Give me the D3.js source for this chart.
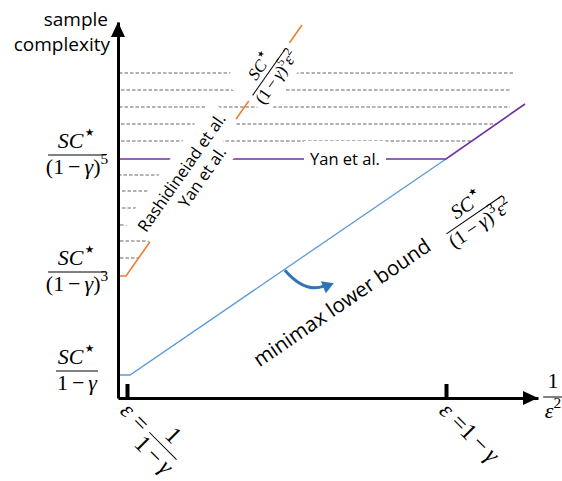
<!DOCTYPE html>
<html>
<head>
<meta charset="utf-8">
<script src="https://cdn.jsdelivr.net/npm/d3@7"></script>
<style>
  body { margin: 0; background: #fff; }
  svg { display: block; }
  .sans { font-family: "Open Sans", sans-serif; fill: #000; }
  .math { font-family: "Liberation Serif", serif; fill: #000; }
</style>
</head>
<body>
<div id="chart"></div>
<script>
// schematic units: x = 1/eps^2, y = sample complexity
const xTicks = [0.9, 32.8];
const yLevels = [2.3, 12.2, 23.9]; // SC*/(1-γ), SC*/(1-γ)^3, SC*/(1-γ)^5
const yLevelPowers = ['', '3', '5'];

const minimaxX = [0, 1.2, 32.8];
const minimaxY = [2.3, 2.3, 23.9];
const yanX = [0, 32.8, 40.7];
const yanY = [23.9, 23.9, 29.4];
const rashX = [0, 0.8, 18.4];
const rashY = [12.2, 12.2, 37.3];

const dashY = [32.5, 30.8, 29.1, 27.4, 25.7, 22.3, 20.7, 19.0, 17.3, 15.7, 14.0];
const dashStart = [0.1, 0.3, 0.1, 0.3, 0.3, 0.0, 0.4, 0.4, 0.2, 0.2, 0.2];
const dashEnd = [39.5, 39.2, 39.2, 37.9, 35.3, 7.9, 6.8, 5.6, 4.4, 3.3, 2.1];

const width = 562, height = 481;
const colors = { minimax: '#5b9bd5', yan: '#7030a0', rash: '#ed7d31', arrow: '#2e75b6', dash: '#666' };

const svg = d3.select('#chart').append('svg')
  .attr('width', width)
  .attr('height', height);

const x = d3.scaleLinear().domain([0, 42]).range([118, 538]);
const y = d3.scaleLinear().domain([0, 37.6]).range([398, 22]);
const MATH = 22;

// inline math: parts = [{t, i: italic, sup: superscript, dx: em gap before, s: size factor}]
function mathText(g, px, py, parts, size, anchor) {
  const t = g.append('text').attr('class', 'math')
    .attr('x', px).attr('y', py)
    .attr('font-size', size)
    .attr('text-anchor', anchor || 'middle');
  let shifted = 0;
  parts.forEach(p => {
    const s = t.append('tspan').text(p.t);
    let dy = 0;
    if (p.sup && !shifted) { dy = -size * 0.42; shifted = 1; }
    if (!p.sup && shifted) { dy = size * 0.42; shifted = 0; }
    if (dy) s.attr('dy', dy);
    if (p.dx) s.attr('dx', p.dx * size);
    if (p.i) s.attr('font-style', 'italic');
    if (p.sup) s.attr('font-size', size * (p.s || 0.7));
  });
  return t;
}

function fraction(g, cx, cy, num, den, size, spread) {
  const k = spread || 0;
  const n = mathText(g, cx, cy - size * 0.3 - k, num, size);
  const d = mathText(g, cx, cy + size * 0.85 + k, den, size);
  const w = Math.max(n.node().getComputedTextLength(), d.node().getComputedTextLength()) + size * 0.15;
  g.append('line')
    .attr('x1', cx - w / 2).attr('x2', cx + w / 2)
    .attr('y1', cy).attr('y2', cy)
    .attr('stroke', '#000').attr('stroke-width', 1);
  return w;
}

const SC = [{ t: 'SC', i: 1 }, { t: '⋆', sup: 1, s: 0.95 }];
const oneMinusGamma = [{ t: '1' }, { t: '−', dx: 0.18 }, { t: 'γ', i: 1, dx: 0.18 }];
function denPow(p, extra) {
  const parts = p ? [{ t: '(1' }, { t: '−', dx: 0.18 }, { t: 'γ', i: 1, dx: 0.18 }, { t: ')' }, { t: p, sup: 1 }]
    : oneMinusGamma.slice();
  return extra ? parts.concat(extra) : parts;
}
const eps2 = [{ t: 'ε', i: 1 }, { t: '2', sup: 1 }];

// dashed grid of intermediate levels
svg.append('g').selectAll('line')
  .data(dashY)
  .join('line')
  .attr('x1', (d, i) => x(dashStart[i]))
  .attr('x2', (d, i) => x(dashEnd[i]))
  .attr('y1', d => y(d))
  .attr('y2', d => y(d))
  .attr('stroke', colors.dash)
  .attr('stroke-width', 1)
  .attr('stroke-dasharray', '3.5,2');

const line = d3.line().x(d => x(d[0])).y(d => y(d[1]));
const series = [
  { key: 'minimax', xs: minimaxX, ys: minimaxY, w: 1.3 },
  { key: 'yan', xs: yanX, ys: yanY, w: 1.6 },
  { key: 'rash', xs: rashX, ys: rashY, w: 1.6 },
];
svg.append('g').selectAll('path')
  .data(series)
  .join('path')
  .attr('fill', 'none')
  .attr('stroke', d => colors[d.key])
  .attr('stroke-width', d => d.w)
  .attr('d', d => line(d.xs.map((v, i) => [v, d.ys[i]])));

// point at fraction t along the last segment of a series, with its angle
function along(s, t) {
  const n = s.xs.length;
  const x0 = x(s.xs[n - 2]), y0 = y(s.ys[n - 2]);
  const x1 = x(s.xs[n - 1]), y1 = y(s.ys[n - 1]);
  return {
    x: x0 + (x1 - x0) * t,
    y: y0 + (y1 - y0) * t,
    a: Math.atan2(y1 - y0, x1 - x0) * 180 / Math.PI,
  };
}

// white box behind a label, drawn into a layer below it
function backdrop(layer, g, pad) {
  const b = g.node().getBBox();
  layer.append('rect')
    .attr('x', b.x - pad).attr('y', b.y - pad)
    .attr('width', b.width + pad * 2).attr('height', b.height + pad * 2)
    .attr('fill', '#fff');
}

// Rashidinejad / Yan labels on the orange line
const rash = series[2];
const pR = along(rash, 0.361);
const gR = svg.append('g').attr('transform', `translate(${pR.x},${pR.y}) rotate(${pR.a})`);
const bgR = gR.append('g');
const l1 = gR.append('text').attr('class', 'sans').attr('font-size', 16.5)
  .attr('text-anchor', 'middle').attr('x', 6).attr('y', -8).text('Rashidineiad et al.');
const l2 = gR.append('text').attr('class', 'sans').attr('font-size', 16.5)
  .attr('text-anchor', 'middle').attr('x', 14).attr('y', 11.5).text('Yan et al.');
backdrop(bgR, l1, 5);
backdrop(bgR, l2, 4);

const pF = along(rash, 0.813);
const gF = svg.append('g').attr('transform', `translate(${pF.x},${pF.y}) rotate(${pF.a})`);
const bgF = gF.append('g');
const gF2 = gF.append('g');
fraction(gF2, 0, 0, SC, denPow('5', eps2), 17);
backdrop(bgF, gF2, 5);

// Yan et al. on the purple plateau
const gY = svg.append('g').attr('transform', `translate(${x(yanX[0]) + (x(yanX[1]) - x(yanX[0])) * 0.692},${y(yanY[0])})`);
const bgY = gY.append('g');
const tY = gY.append('text').attr('class', 'sans').attr('font-size', 16.5)
  .attr('text-anchor', 'middle').attr('y', 6).text('Yan et al.');
backdrop(bgY, tY, 6);

// minimax lower bound label + arrow
const mm = series[0];
const pM = along(mm, 0.285);
const gM = svg.append('g').attr('transform', `translate(${pM.x},${pM.y}) rotate(${pM.a})`);
const mmText = gM.append('text').attr('class', 'sans').attr('font-size', 20.5)
  .attr('x', 2).attr('y', 67).text('minimax lower bound');
const mmLen = mmText.node().getComputedTextLength();
fraction(gM, mmLen + 56, 62, SC, denPow('3', eps2), 20);

const pA = along(mm, 0.49);
svg.append('path')
  .attr('d', `M${pA.x},${pA.y + 1} q20,23 39,16`)
  .attr('fill', 'none')
  .attr('stroke', colors.arrow)
  .attr('stroke-width', 3);
svg.append('path')
  .attr('d', `M${pA.x + 49},${pA.y + 14} l-13,-2 l5,12 z`)
  .attr('fill', colors.arrow);

// axes
const xAxis = svg.append('g')
  .attr('transform', `translate(0,${y(0)})`)
  .call(d3.axisBottom(x).tickValues(xTicks).tickSize(-14).tickSizeOuter(0).tickFormat(''));
xAxis.select('.domain').attr('stroke-width', 3);
xAxis.selectAll('.tick line').attr('stroke-width', 4);

const yAxis = svg.append('g')
  .attr('transform', `translate(${x(0)},0)`)
  .call(d3.axisLeft(y).tickValues([]).tickSizeOuter(0));
yAxis.select('.domain').attr('stroke-width', 3);

svg.append('path')
  .attr('d', `M${x(0)},${y(37.6)} l-7,15 l14,0 z`)
  .attr('fill', '#000');
svg.append('path')
  .attr('d', `M${x(42)},${y(0)} l-15,-7 l0,14 z`)
  .attr('fill', '#000');

// axis titles
const yTitle = svg.append('text').attr('class', 'sans').attr('font-size', 19)
  .attr('text-anchor', 'end');
yTitle.append('tspan').attr('x', 108).attr('y', 26).text('sample');
yTitle.append('tspan').attr('x', 110).attr('y', 51).text('complexity');

fraction(svg.append('g'), 553, y(0) - 1, [{ t: '1' }], eps2, MATH, 2);

// y level labels
yLevels.forEach((v, i) => {
  fraction(svg.append('g'), 77, y(v) - 4, SC, denPow(yLevelPowers[i]), MATH);
});

// x tick labels (rotated)
const TICK = 24;
xTicks.forEach((v, i) => {
  const g = svg.append('g')
    .attr('transform', `translate(${x(v) - 3},${y(0) + 9}) rotate(45)`);
  const eq = mathText(g, 0, 7, [{ t: 'ε', i: 1 }, { t: '=', dx: 0.28 }], TICK, 'start');
  const w = eq.node().getComputedTextLength() + TICK * 0.28;
  if (i === 0) {
    const g2 = g.append('g');
    const fw = fraction(g2, 0, 0, [{ t: '1' }], oneMinusGamma, TICK);
    g2.attr('transform', `translate(${w + fw / 2 + 6},0)`);
  } else {
    mathText(g, w, 7, oneMinusGamma, TICK, 'start');
  }
});
</script>
</body>
</html>
